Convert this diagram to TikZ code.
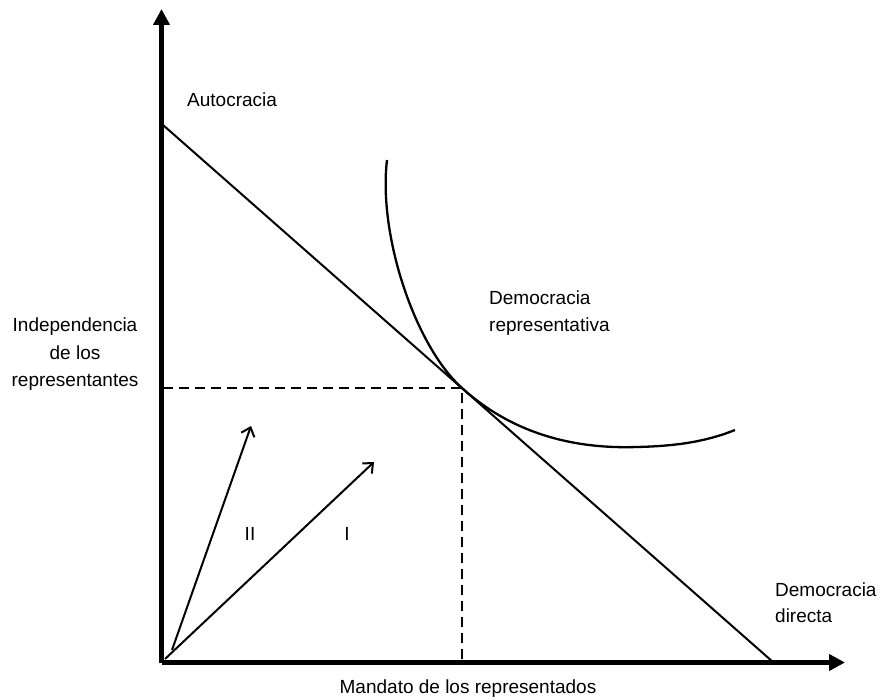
\documentclass[tikz,border=0pt]{standalone}
\usepackage{fontspec}
\setmainfont{Liberation Sans}
\usetikzlibrary{arrows.meta}
\begin{document}
\begin{tikzpicture}[x=1pt,y=-1pt,
  lbl/.style={font=\fontsize{19}{27}\selectfont, inner sep=0pt},
  axis/.style={line width=5pt, -{Triangle[length=16pt,width=16pt]}},
  plain/.style={line width=2pt},
  curve/.style={line width=2.3pt},
  vec/.style={line width=2pt, -{Straight Barb[length=8pt,width=14pt,line width=2pt]}},
  guide/.style={line width=1.8pt, dash pattern=on 10pt off 6pt}]
\useasboundingbox (0,0) rectangle (880,700);
% axes
\coordinate (O) at (161.5,662.5);
\coordinate (ytip) at (161.5,9);
\coordinate (xtip) at (845,662.5);
\draw[axis] (O) -- (ytip);
\draw[axis] (O) -- (xtip);
% budget line
\coordinate (A) at (163,125);
\coordinate (B) at (773,662);
\draw[plain] (A) -- (B);
% tangency and guides
\coordinate (T) at (462,388);
\coordinate (Ty) at (163,388);
\coordinate (Tx) at (462,661);
\draw[guide] (Ty) -- (T) -- (Tx);
% indifference curve
\coordinate (C0) at (387,160);
\coordinate (C2) at (637,447);
\coordinate (C3) at (735,430);
\draw[curve] (C0) .. controls (378,235) and (415,346) .. (T)
  .. controls (515,436) and (578,449) .. (C2)
  .. controls (682,446) and (710,440) .. (C3);
% vectors
\coordinate (IIs) at (172,650);
\coordinate (IIe) at (251,426);
\coordinate (Is) at (165,659);
\coordinate (Ie) at (374,462);
\draw[vec] (IIs) -- (IIe);
\draw[vec] (Is) -- (Ie);
% labels
\node[lbl, anchor=base] (lII) at (250,540) {II};
\node[lbl, anchor=base] (lI) at (347,540) {I};
\node[lbl, anchor=base west] (auto) at (187,107) {Autocracia};
\node[lbl, anchor=base west] (drep1) at (489,305) {Democracia};
\node[lbl, anchor=base west] (drep2) at (489,331) {representativa};
\node[lbl, anchor=base] (ind1) at (75,331) {Independencia};
\node[lbl, anchor=base] (ind2) at (75,359) {de los};
\node[lbl, anchor=base] (ind3) at (75,386) {representantes};
\node[lbl, anchor=base west] (ddir1) at (775,596) {Democracia};
\node[lbl, anchor=base west] (ddir2) at (775,622) {directa};
\node[lbl, anchor=base] (mand) at (468,693) {Mandato de los representados};
\end{tikzpicture}
\end{document}
